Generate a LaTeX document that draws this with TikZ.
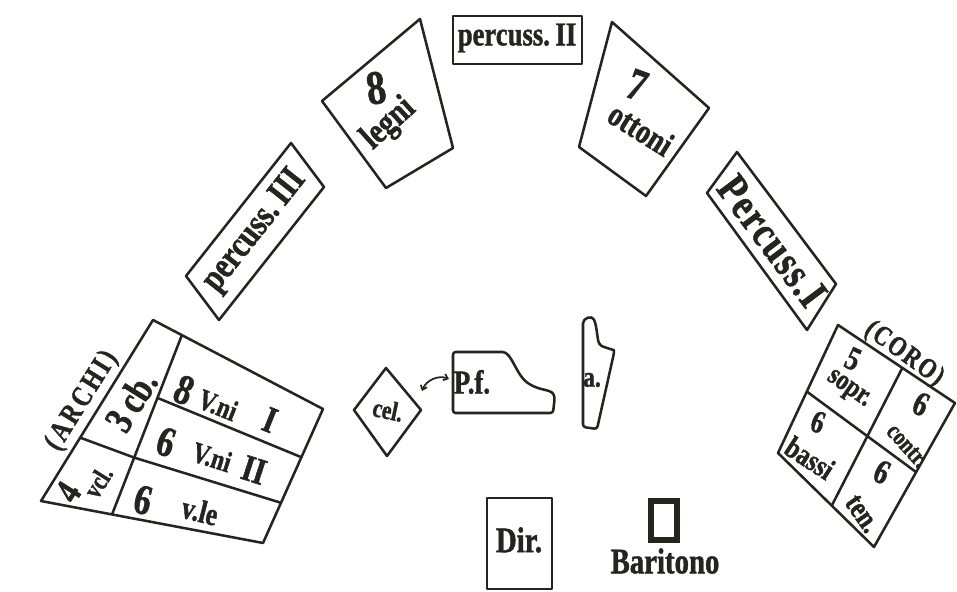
\documentclass[tikz,border=0pt]{standalone}
\usepackage{fontspec}
\setmainfont{Liberation Serif}[FakeStretch=0.8,BoldFeatures={FakeBold=1.2}]
\usetikzlibrary{calc,arrows.meta}
\definecolor{ink}{RGB}{38,36,30}
\newcommand\fz[1]{\fontsize{#1pt}{#1pt}\selectfont\bfseries}
\newcommand\ls{\addfontfeature{LetterSpace=10}}
\begin{document}
\begin{tikzpicture}[x=0.75pt,y=-0.75pt,
  frame/.style={draw=ink,line width=1.9pt,line join=round},
  txt/.style={inner sep=0pt,text=ink}]
\useasboundingbox[fill=white] (0,0) rectangle (957,592);

% ---------- ARCHI ----------
\coordinate (aT) at (153,320);
\coordinate (aR) at (323,409);
\coordinate (aBR) at (263,543);
\coordinate (aBL) at (41,501);
\draw[frame] (aT)--(aR)--(aBR)--(aBL)--cycle;
\coordinate (aD1) at ($(aT)!0.17!(aR)$);
\coordinate (aD2) at ($(aBL)!0.32!(aBR)$);
\draw[frame] (aD1)--(aD2);
\coordinate (aM) at ($(aD1)!0.683!(aD2)$);
\coordinate (aLl) at ($(aBL)!0.35!(aT)$);
\coordinate (aR2) at ($(aR)!0.70!(aBR)$);
\coordinate (aM1) at ($(aD1)!0.35!(aD2)$);
\coordinate (aR1) at ($(aR)!0.36!(aBR)$);
\draw[frame] (aLl)--(aM)--(aR2);
\draw[frame] (aM1)--(aR1);
\node[txt,rotate=58,font=\fz{22}\ls] (archi) at (82,401) {(ARCHI)};
\node[txt,rotate=58,font=\fz{30}] (cb) at (131,401) {3\,cb.};
\node[txt,rotate=58,font=\fz{28}] (a4) at (68,492) {4};
\node[txt,rotate=58,font=\fz{20}] (vcl) at (98,482) {vcl.};
\node[txt,rotate=-22,font=\fz{32}] (a8) at (184,390) {8};
\node[txt,rotate=-22,font=\fz{22}] (vn1) at (218,405) {V.ni};
\node[txt,rotate=-22,font=\fz{28}] (r1) at (270,420) {I};
\node[txt,rotate=-18,font=\fz{32}] (a6a) at (166,442) {6};
\node[txt,rotate=-18,font=\fz{22}] (vn2) at (212,457) {V.ni};
\node[txt,rotate=-18,font=\fz{28}] (r2) at (254,470) {II};
\node[txt,rotate=-14,font=\fz{32}] (a6b) at (143,500) {6};
\node[txt,rotate=-14,font=\fz{24}] (vle) at (200,511) {v.le};

% ---------- percuss III ----------
\draw[frame] (186,276)--(291,143)--(324,187)--(219,320)--cycle;
\node[txt,rotate=51.7,font=\fz{28}] (p3) at (255,231) {percuss.\,III};

% ---------- 8 legni ----------
\draw[frame] (322,101)--(420,19)--(453,148)--(386,188)--cycle;
\node[txt,rotate=8,font=\fz{36}] (l8) at (376,88) {8};
\node[txt,rotate=42,font=\fz{27}] (legni) at (389,124) {legni};

% ---------- percuss II ----------
\draw[frame] (453,16) rectangle (582,64);
\node[txt,font=\fz{25}] (p2) at (517,38) {percuss.\,II};

% ---------- 7 ottoni ----------
\draw[frame] (612,22)--(709,108)--(646,196)--(579,147)--cycle;
\node[txt,rotate=-20,font=\fz{34}] (o7) at (637,85) {7};
\node[txt,rotate=-32,font=\fz{26}] (ottoni) at (641,129) {ottoni};

% ---------- Percuss I ----------
\draw[frame] (737,152)--(836,284)--(807,330)--(707,193)--cycle;
\node[txt,rotate=-53.1,font=\fz{33}\addfontfeature{LetterSpace=4}] (p1) at (772,241) {Percuss.I};

% ---------- CORO ----------
\coordinate (cT) at (838,325);
\coordinate (cR) at (955,403);
\coordinate (cB) at (874,547);
\coordinate (cL) at (778,453);
\draw[frame] (cT)--(cR)--(cB)--(cL)--cycle;
\draw[frame] ($(cT)!0.55!(cR)$)--($(cL)!0.56!(cB)$);
\draw[frame] ($(cT)!0.52!(cL)$)--($(cR)!0.48!(cB)$);
\node[txt,rotate=-36,font=\fz{21}\addfontfeature{LetterSpace=6}] (coro) at (904,354) {(CORO)};
\node[txt,rotate=-25,font=\fz{25}] (c5) at (853,359) {5};
\node[txt,rotate=-35,font=\fz{22}] (sopr) at (848,390) {sopr.};
\node[txt,rotate=-25,font=\fz{26}] (c6a) at (921,404) {6};
\node[txt,rotate=-48,font=\fz{19}] (contr) at (907,446) {contr.};
\node[txt,rotate=-20,font=\fz{24}] (c6b) at (818,422) {6};
\node[txt,rotate=-33,font=\fz{23}] (bassi) at (810,458) {bassi};
\node[txt,rotate=-25,font=\fz{26}] (c6c) at (882,472) {6};
\node[txt,rotate=-55,font=\fz{23}] (ten) at (862,514) {ten.};

% ---------- celesta ----------
\draw[frame] (386,368)--(421,410)--(387,456)--(354,410)--cycle;
\node[txt,rotate=-12,font=\fz{20}] (cel) at (388,410) {cel.};

% ---------- piano ----------
\draw[frame,rounded corners=2pt] (453,352) -- (500,352)
  .. controls (512,352) and (516,376) .. (531,385)
  .. controls (545,392) and (556,388) .. (554,404)
  -- (553,413) -- (453,413) -- cycle;
\node[txt,font=\fz{25}] (pf) at (472,382) {P.f.};
\coordinate (arrA) at (422,391);
\coordinate (arrB) at (449,379);
\draw[draw=ink,line width=1.3pt,{Straight Barb[length=3pt,width=5pt]}-{Straight Barb[length=3pt,width=5pt]}]
  (arrA) to[bend left=45] (arrB);

% ---------- harp ----------
\draw[frame,rounded corners=2pt] (583,427) -- (583,326)
  .. controls (583,318) and (592,315) .. (595,322)
  .. controls (598,335) and (597,344) .. (604,347)
  .. controls (610,349) and (614,350) .. (614,353)
  -- (597,429) -- cycle;
\node[txt,font=\fz{22}] (harp) at (592,380) {a.};

% ---------- Dir ----------
\draw[frame] (487,498) rectangle (552,589);
\node[txt,font=\fz{27}] (dir) at (519,540) {Dir.};

% ---------- Baritono ----------
\draw[draw=ink,line width=5pt] (651,501) rectangle (677,540);
\node[txt,font=\fz{27}] (bar) at (665,561) {Baritono};
\end{tikzpicture}
\end{document}
